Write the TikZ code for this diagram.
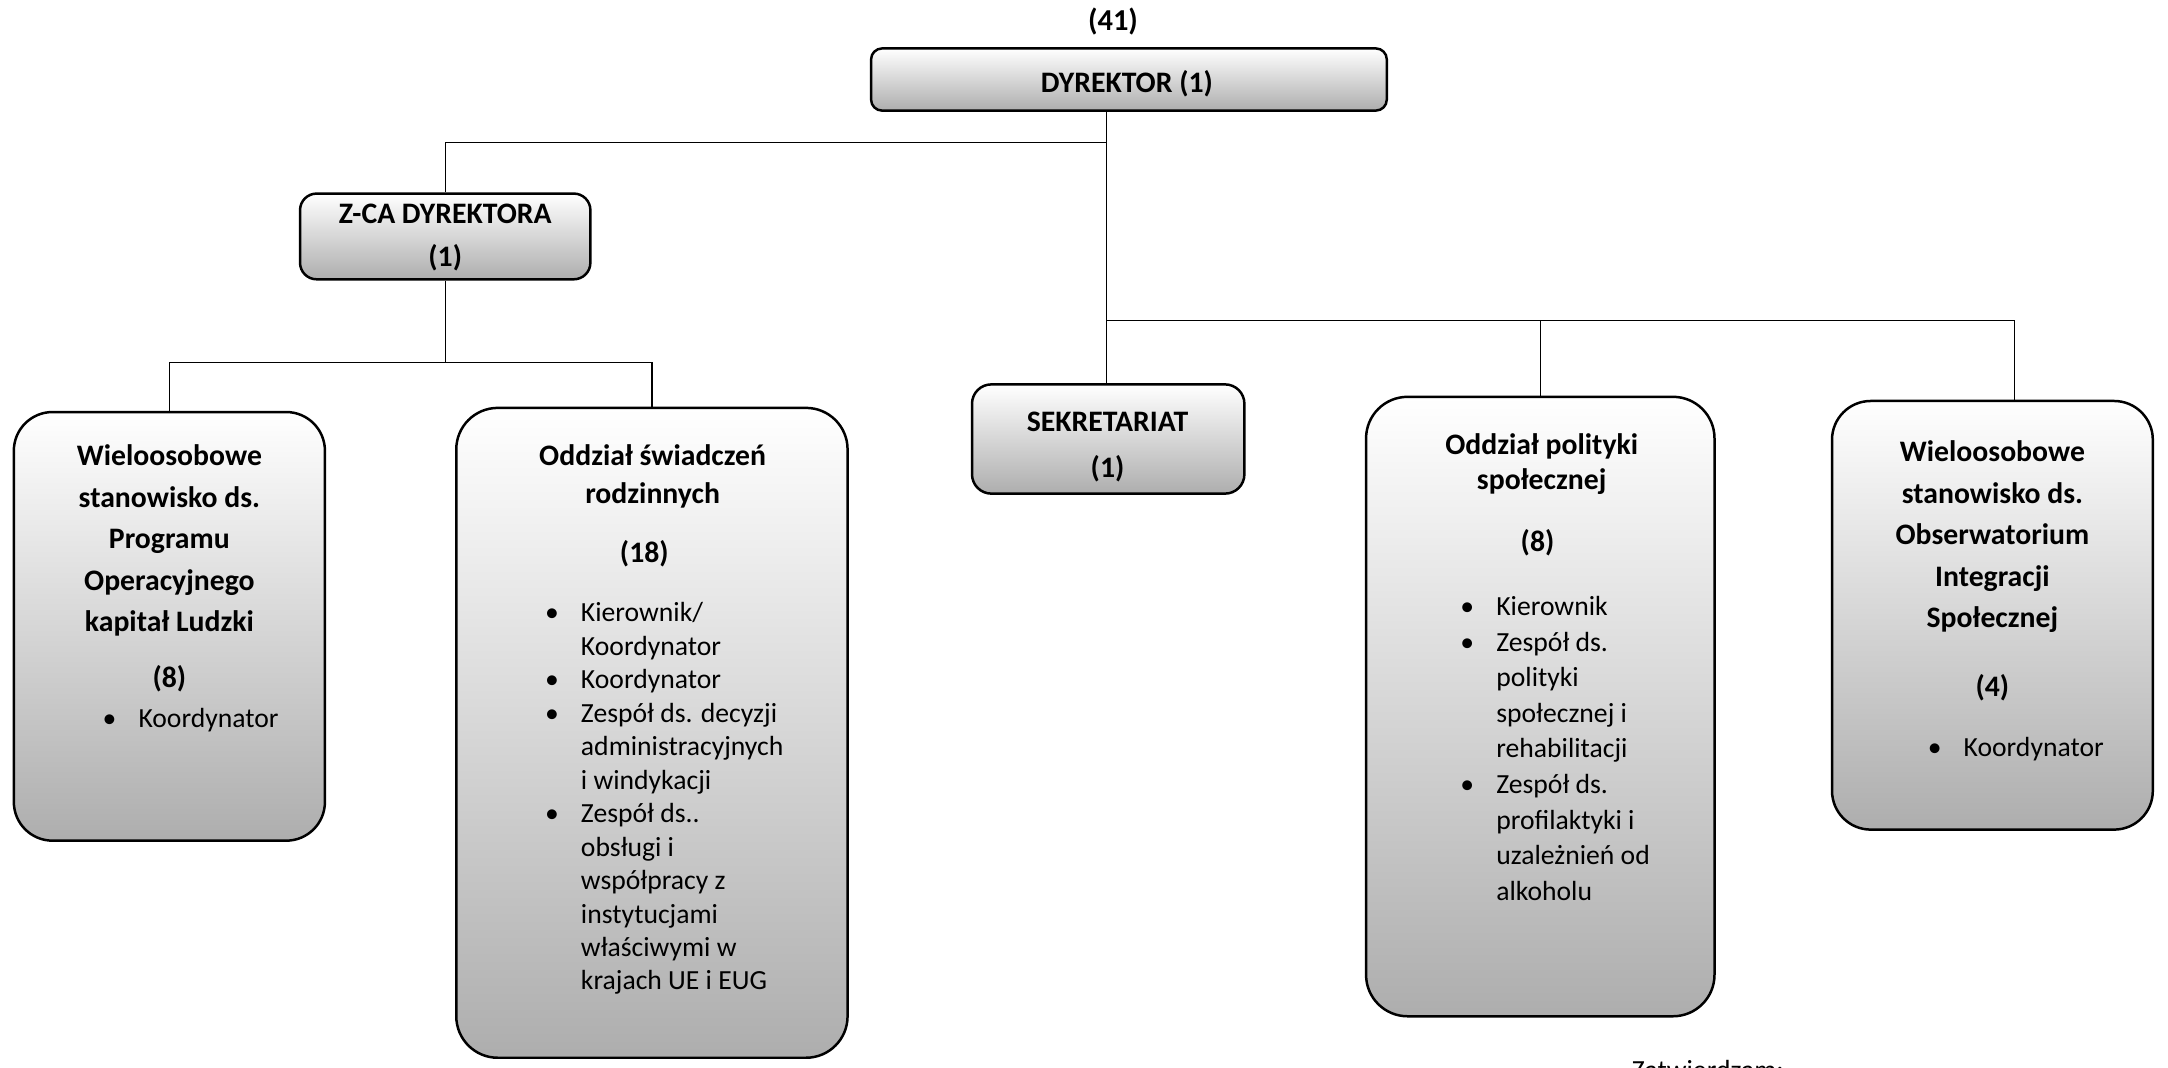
\documentclass[tikz,border=0pt]{standalone}
\usepackage{fontspec}
\setmainfont{Carlito}
\usepackage{tikz}

\newcommand{\blt}{\leavevmode\llap{\textbullet\hspace{16pt}}}

\begin{document}
\begin{tikzpicture}
[x=1pt, y=-1pt,
 unit/.style={draw=black, line width=1.8pt, top color=white, middle color=white, bottom color=black!32, inner sep=0pt},
 ttl/.style={font=\fontsize{21.5}{30}\selectfont\bfseries, align=center, anchor=base, inner sep=0pt},
 itm/.style={font=\fontsize{20}{24.2}\selectfont, align=left, anchor=base west, inner sep=0pt},
 conn/.style={line width=0.9pt, color=black}]
\useasboundingbox (0,0) rectangle (1568,772);
\node (total) [ttl, font=\fontsize{22}{26}\selectfont\bfseries] at (805, 22) {(41)};
\node (dyr) [unit, rounded corners=8pt, minimum width=373pt, minimum height=45pt] at (816.5, 57.5) {};
\node (dyrt) [ttl] at (815, 67) {DYREKTOR (1)};
\node (zca) [unit, rounded corners=12pt, minimum width=210pt, minimum height=62pt] at (322, 171) {};
\node (zcat) [ttl] at (322, 162) {Z-CA DYREKTORA};
\node (zcan) [ttl] at (322, 193) {(1)};
\node (sek) [unit, rounded corners=14pt, minimum width=197pt, minimum height=79pt] at (801.5, 317.5) {};
\node (sekt) [ttl] at (801, 312) {SEKRETARIAT};
\node (sekn) [ttl] at (801, 345) {(1)};
% base = baseline of the last line
\node (wlk) [unit, rounded corners=28pt, minimum width=225pt, minimum height=310pt] at (122.5, 453) {};
\node (wlkt) [ttl] at (122.5, 457) {Wieloosobowe\\stanowisko ds.\\Programu\\Operacyjnego\\kapitał Ludzki};
\node (wlkn) [ttl] at (122.5, 497) {(8)};
\node (wlki) [itm] at (100, 526) {\blt Koordynator};
\node (osr) [unit, rounded corners=30pt, minimum width=283pt, minimum height=470pt] at (471.5, 530) {};
\node (osrt) [ttl, font=\fontsize{21.5}{27}\selectfont\bfseries] at (472, 364) {Oddział świadczeń\\rodzinnych};
\node (osrn) [ttl] at (466, 407) {(18)};
\node (osri) [itm] at (420, 716) {\blt Kierownik/\\Koordynator\\\blt Koordynator\\\blt Zespół ds. decyzji\\administracyjnych\\i windykacji\\\blt Zespół ds..\\obsługi i\\współpracy z\\instytucjami\\właściwymi w\\krajach UE i EUG};
\node (opol) [unit, rounded corners=30pt, minimum width=252pt, minimum height=448pt] at (1114, 511) {};
\node (opolt) [ttl, font=\fontsize{21.5}{25}\selectfont\bfseries] at (1115, 354) {Oddział polityki\\społecznej};
\node (opoln) [ttl] at (1112, 399) {(8)};
\node (opoli) [itm, font=\fontsize{20}{25.7}\selectfont] at (1082, 651) {\blt Kierownik\\\blt Zespół ds.\\polityki\\społecznej i\\rehabilitacji\\\blt Zespół ds.\\profilaktyki i\\uzależnień od\\alkoholu};
\node (wois) [unit, rounded corners=28pt, minimum width=232pt, minimum height=310pt] at (1441, 445) {};
\node (woist) [ttl] at (1441, 454) {Wieloosobowe\\stanowisko ds.\\Obserwatorium\\Integracji\\Społecznej};
\node (woisn) [ttl] at (1441, 504) {(4)};
\node (woisi) [itm] at (1420, 547) {\blt Koordynator};
\node (zatw) [itm] at (1180, 781) {Zatwierdzam:};
\coordinate (j1) at (800, 103);
\coordinate (j2) at (800, 232);
\coordinate (j3) at (322, 262);
\draw [conn] (dyr.south -| j1) -- (sek.north -| j1);
\draw [conn] (j1) -| (zca.north);
\draw [conn] (zca.south) -- (j3);
\draw [conn] (wlk.north) |- (j3) -| (osr.north);
\draw [conn] (j2) -| (opol.north);
\draw [conn] (j2) -| ([xshift=16pt]wois.north);
\end{tikzpicture}
\end{document}
